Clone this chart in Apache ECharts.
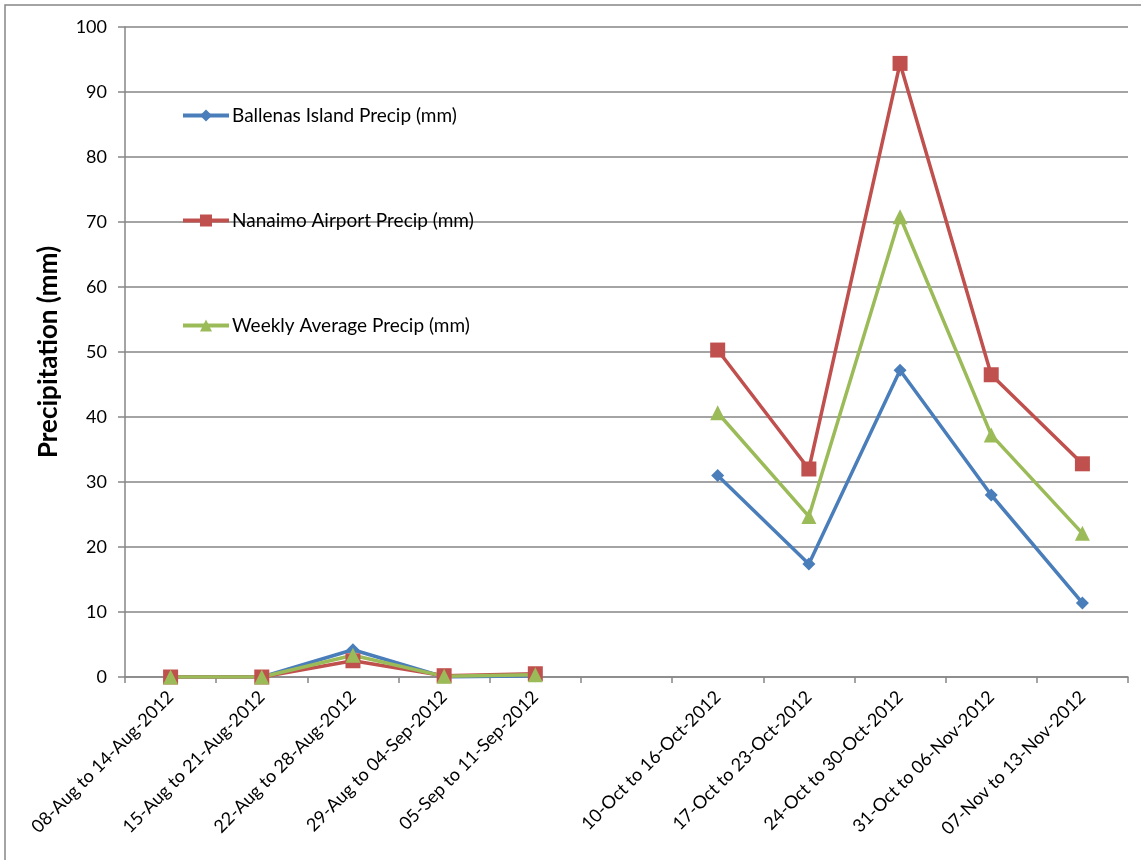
<!DOCTYPE html>
<html>
<head>
<meta charset="utf-8">
<script src="https://cdn.jsdelivr.net/npm/echarts@6/dist/echarts.min.js"></script>
<style>
  html, body { margin: 0; padding: 0; background: #fff; }
  #chart { width: 1141px; height: 860px; }
</style>
</head>
<body>
<div id="chart"></div>
<script>
// Weekly periods; the blank entry is the gap between September and October.
const weeks = [
  '08-Aug to 14-Aug-2012',
  '15-Aug to 21-Aug-2012',
  '22-Aug to 28-Aug-2012',
  '29-Aug to 04-Sep-2012',
  '05-Sep to 11-Sep-2012',
  '',
  '10-Oct to 16-Oct-2012',
  '17-Oct to 23-Oct-2012',
  '24-Oct to 30-Oct-2012',
  '31-Oct to 06-Nov-2012',
  '07-Nov to 13-Nov-2012'
];

const ballenas = [0, 0, 4.2, 0, 0.2, null, 31.0, 17.4, 47.2, 28.0, 11.4];
const nanaimo  = [0, 0, 2.5, 0.2, 0.5, null, 50.3, 32.0, 94.4, 46.5, 32.8];
const average  = [0, 0, 3.35, 0.1, 0.35, null, 40.65, 24.7, 70.8, 37.25, 22.1];

const FONT = 'Lato, "Open Sans", sans-serif';
const GRAY = '#868686';

const chart = echarts.init(document.getElementById('chart'), null, { renderer: 'canvas' });

function lineSeries(name, data, color, symbol, size) {
  return {
    name: name,
    type: 'line',
    data: data,
    connectNulls: false,
    symbol: symbol,
    symbolSize: size,
    showAllSymbol: true,
    lineStyle: { color: color, width: 3.5 },
    itemStyle: { color: color, borderWidth: 0 },
    emphasis: { disabled: true },
    animation: false
  };
}

chart.setOption({
  animation: false,
  textStyle: { fontFamily: FONT },
  graphic: [{
    type: 'rect',
    shape: { x: 5, y: 5, width: 1145, height: 870 },
    style: { fill: 'none', stroke: GRAY, lineWidth: 1.5 },
    silent: true,
    z: -1
  }],
  grid: { left: 125, right: 13, top: 27, bottom: 183, containLabel: false },
  legend: {
    orient: 'vertical',
    left: 181,
    top: 106,
    padding: 0,
    itemGap: 86,
    itemWidth: 46,
    itemHeight: 15,
    lineStyle: { width: 4 },
    textStyle: { fontFamily: FONT, fontSize: 19, color: '#000', padding: [0, 0, 0, -2] },
    data: ['Ballenas Island Precip (mm)', 'Nanaimo Airport Precip (mm)', 'Weekly Average Precip (mm)']
  },
  xAxis: {
    type: 'category',
    data: weeks,
    boundaryGap: true,
    axisLine: { lineStyle: { color: GRAY, width: 1.5 } },
    axisTick: { show: true, interval: 0, length: 6, lineStyle: { color: GRAY, width: 1.5 } },
    axisLabel: {
      interval: 0,
      rotate: 45,
      margin: 17,
      fontFamily: FONT,
      fontSize: 18,
      color: '#000'
    },
    splitLine: { show: false }
  },
  yAxis: {
    type: 'value',
    min: 0,
    max: 100,
    interval: 10,
    name: 'Precipitation (mm)',
    nameLocation: 'middle',
    nameGap: 63,
    nameRotate: 90,
    nameTextStyle: { fontFamily: FONT, fontSize: 26, fontWeight: 'bold', color: '#000' },
    axisLine: { show: true, lineStyle: { color: GRAY, width: 1.5 } },
    axisTick: { show: true, length: 7, lineStyle: { color: GRAY, width: 1.5 } },
    axisLabel: { fontFamily: FONT, fontSize: 18, color: '#000', margin: 18 },
    splitLine: { show: true, lineStyle: { color: GRAY, width: 1.5 } }
  },
  series: [
    lineSeries('Ballenas Island Precip (mm)', ballenas, '#4A7EBB', 'diamond', 13),
    lineSeries('Nanaimo Airport Precip (mm)', nanaimo, '#C0504D', 'rect', 15),
    lineSeries('Weekly Average Precip (mm)', average, '#9BBB59', 'triangle', 15)
  ]
});
</script>
</body>
</html>
